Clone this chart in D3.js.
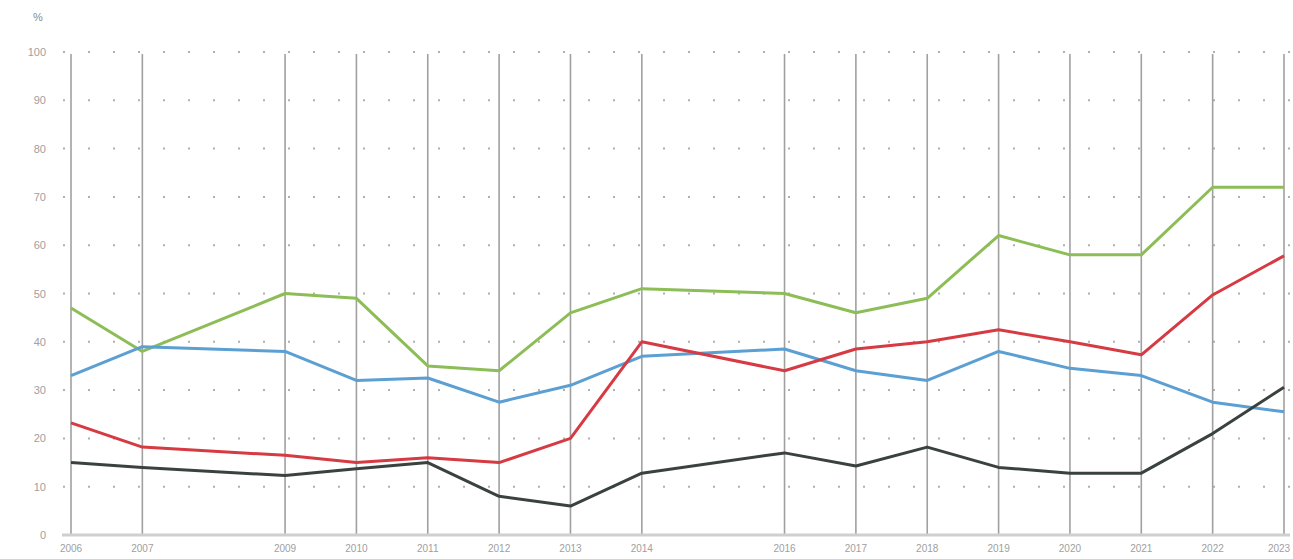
<!DOCTYPE html>
<html>
<head>
<meta charset="utf-8">
<script src="https://cdn.jsdelivr.net/npm/d3@7"></script>
<style>
  body { margin: 0; background: #fff; }
  svg { display: block; }
  text { font-family: "Liberation Sans", Arial, sans-serif; }
</style>
</head>
<body>
<svg width="1293" height="559"></svg>
<script>
var svg = d3.select("svg"),
    width = +svg.attr("width"),
    height = +svg.attr("height");

// data
var years = [2006, 2007, 2009, 2010, 2011, 2012, 2013, 2014, 2016, 2017, 2018, 2019, 2020, 2021, 2022, 2023];
var green = [47, 38, 50, 49, 35, 34, 46, 51, 50, 46, 49, 62, 58, 58, 72, 72];
var blue  = [33, 39, 38, 32, 32.5, 27.5, 31, 37, 38.5, 34, 32, 38, 34.5, 33, 27.5, 25.5];
var red   = [23.2, 18.2, 16.5, 15, 16, 15, 20, 40, 34, 38.5, 40, 42.5, 40, 37.3, 49.7, 57.8];
var black = [15, 14, 12.3, 13.7, 15, 8, 6, 12.8, 17, 14.3, 18.2, 14, 12.8, 12.8, 21, 30.6];
var yTicks = [0, 10, 20, 30, 40, 50, 60, 70, 80, 90, 100];

var series = [
  { name: "green", color: "#8dbd57", values: green },
  { name: "blue",  color: "#5b9fd3", values: blue },
  { name: "red",   color: "#d63a42", values: red },
  { name: "black", color: "#3a423f", values: black }
];

var x = d3.scaleLinear().domain([2006, 2023]).range([71, 1284]);
var y = d3.scaleLinear().domain([0, 100]).range([535, 52]);

// dotted horizontal grid
svg.append("g")
  .selectAll("line")
  .data(yTicks.filter(d => d > 0))
  .enter()
  .append("line")
    .attr("x1", 63)
    .attr("x2", 1290)
    .attr("y1", d => y(d))
    .attr("y2", d => y(d))
    .style("stroke", "#b0b0b0")
    .style("stroke-width", 2)
    .style("stroke-dasharray", "2,23");

// vertical year lines
svg.append("g")
  .selectAll("line")
  .data(years)
  .enter()
  .append("line")
    .attr("x1", d => x(d))
    .attr("x2", d => x(d))
    .attr("y1", y(100) + 2)
    .attr("y2", y(0))
    .style("stroke", "#a0a0a0")
    .style("stroke-width", 1.6);

// baseline
svg.append("line")
  .attr("x1", 62)
  .attr("x2", 1290)
  .attr("y1", y(0))
  .attr("y2", y(0))
  .style("stroke", "#cfcfcf")
  .style("stroke-width", 3);

// y labels
svg.append("g")
  .selectAll("text")
  .data(yTicks)
  .enter()
  .append("text")
    .attr("x", 46)
    .attr("y", d => y(d) + 4)
    .attr("text-anchor", "end")
    .style("font-size", "11px")
    .style("fill", "#a0a0a0")
    .text(d => d);

svg.append("text")
  .attr("x", 38)
  .attr("y", 21)
  .attr("text-anchor", "middle")
  .style("font-size", "11px")
  .style("fill", "#8a8a8a")
  .text("%");

// x labels (last one pulled in so it stays on the page)
svg.append("g")
  .selectAll("text")
  .data(years)
  .enter()
  .append("text")
    .attr("x", d => Math.min(x(d), width - 14))
    .attr("y", 552)
    .attr("text-anchor", "middle")
    .style("font-size", "10px")
    .style("fill", "#a0a0a0")
    .text(d => d);

// lines
var line = d3.line()
  .x((d, i) => x(years[i]))
  .y(d => y(d));

svg.append("g")
  .selectAll("path")
  .data(series)
  .enter()
  .append("path")
    .attr("d", d => line(d.values))
    .style("fill", "none")
    .style("stroke", d => d.color)
    .style("stroke-width", 3)
    .style("stroke-linejoin", "round");
</script>
</body>
</html>
